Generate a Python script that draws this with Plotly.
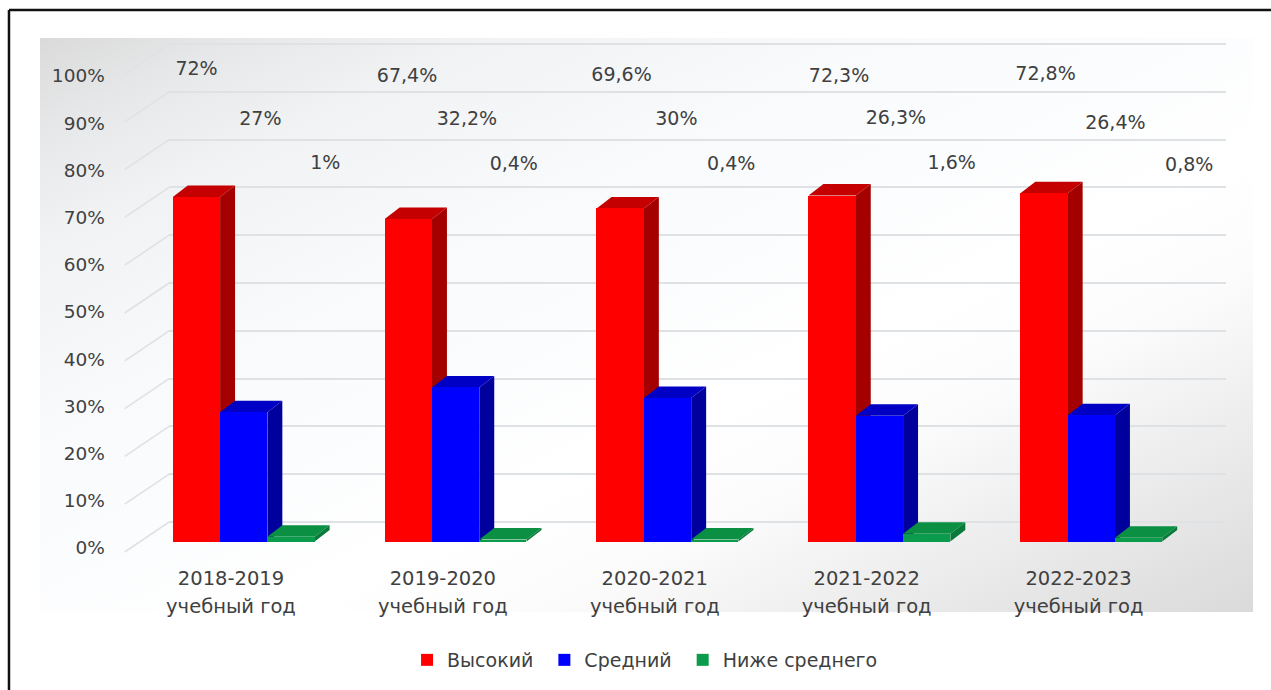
import base64
import plotly.graph_objects as go

# ---- data ----
years = ["2018-2019", "2019-2020", "2020-2021", "2021-2022", "2022-2023"]
second_line = "учебный год"
series_names = ["Высокий\u00a0", "Средний\u00a0", "Ниже среднего"]
high = [72, 67.4, 69.6, 72.3, 72.8]
mid = [27, 32.2, 30, 26.3, 26.4]
low = [1, 0.4, 0.4, 1.6, 0.8]
axis_ticks = [0, 10, 20, 30, 40, 50, 60, 70, 80, 90, 100]

# ---- page geometry (pixels) ----
W, H = 1271, 690
DOM_L, DOM_R = 166.5, 1226
DOM_T, DOM_B = 20, 560
PITCH = 212.4
X0 = 228.5
BAR_W = 47.4
DX, DY = 15, 11.5
PX_PER_PCT = 4.785
BASE = 541.5


def x_data(px):
    return (px - X0) / PITCH


def paper_x(px):
    return px / W


def paper_y(py):
    return 1 - py / H


def y_range(zero_px, scale):
    return [(zero_px - DOM_B) / scale, (zero_px - DOM_T) / scale]


xr = [x_data(DOM_L), x_data(DOM_R)]
dom_x = [paper_x(DOM_L), paper_x(DOM_R)]
dom_y = [paper_y(DOM_B), paper_y(DOM_T)]

WALL_ZERO, WALL_SCALE = 522, 4.78
TICK_ZERO, TICK_SCALE = 548, 4.72

RED, BLUE, GREEN = "#ff0000", "#0000ff", "#0a9c4c"
styles = [
    (high, RED, "#a40000", "#c40000", -58.3),
    (mid, BLUE, "#00009c", "#0000c4", -58.3 + BAR_W),
    (low, GREEN, "#0a7a3a", "#0b8f42", -58.3 + 2 * BAR_W),
]
TEXT = "#404040"
FONT = "DejaVu Sans"

fig = go.Figure()

shapes = []
# gradient panel
svg = (
    '<svg xmlns="http://www.w3.org/2000/svg" width="1216" height="574">'
    '<defs><linearGradient id="g" x1="0" y1="0" x2="1" y2="1">'
    '<stop offset="0" stop-color="#dadada"/><stop offset="0.08" stop-color="#e6e7e8"/>'
    '<stop offset="0.18" stop-color="#f0f2f4"/><stop offset="0.35" stop-color="#f8fafc"/>'
    '<stop offset="0.6" stop-color="#ffffff"/><stop offset="0.7" stop-color="#fcfcfc"/>'
    '<stop offset="0.82" stop-color="#eeeeee"/><stop offset="1" stop-color="#dadada"/>'
    '</linearGradient></defs><rect width="1216" height="574" fill="url(#g)"/></svg>'
)
img = "data:image/svg+xml;base64," + base64.b64encode(svg.encode()).decode()

# frame
shapes.append(dict(type="line", xref="paper", yref="paper", x0=paper_x(6), x1=1,
                   y0=paper_y(10), y1=paper_y(10), line=dict(color="#111111", width=2.5), layer="above"))
shapes.append(dict(type="line", xref="paper", yref="paper", x0=paper_x(6), x1=paper_x(6),
                   y0=0, y1=paper_y(10), line=dict(color="#111111", width=2.5), layer="above"))

# side-wall diagonals, one per tick
for t in axis_ticks:
    back = WALL_ZERO - WALL_SCALE * t
    front = back + 30
    shapes.append(dict(type="line", xref="paper", yref="paper", layer="below",
                       x0=paper_x(122), x1=paper_x(DOM_L),
                       y0=paper_y(front), y1=paper_y(back),
                       line=dict(color="#dfe2e5", width=1.6)))

# 3D faces of the bars derived from the values
dx_u = DX / PITCH
dy_u = DY / PX_PER_PCT
for values, front, side, top, off in styles:
    off_u = off / PITCH
    w_u = BAR_W / PITCH
    for i, v in enumerate(values):
        l = i + off_u
        r = l + w_u
        side_path = f"M{r},0 L{r+dx_u},{dy_u} L{r+dx_u},{v+dy_u} L{r},{v} Z"
        top_path = f"M{l},{v} L{l+dx_u},{v+dy_u} L{r+dx_u},{v+dy_u} L{r},{v} Z"
        for p, c in ((side_path, side), (top_path, top)):
            shapes.append(dict(type="path", path=p, xref="x", yref="y", layer="between",
                               fillcolor=c, line=dict(width=0)))

# front faces
for name, (values, front, side, top, off) in zip(series_names, styles):
    fig.add_trace(go.Bar(
        x=list(range(len(years))), y=values, name=name,
        width=BAR_W / PITCH, offset=off / PITCH,
        marker=dict(color=front, line=dict(width=0)),
        xaxis="x", yaxis="y", cliponaxis=False,
    ))

# floating value labels (pixel anchor)
label_px = {
    0: ([194, 405, 620, 838, 1045], [70, 77, 76, 77, 75]),
    1: ([258, 465, 675, 895, 1115], [120, 120, 120, 119, 124]),
    2: ([323, 512, 730, 951, 1189], [164, 165, 165, 164, 166]),
}
for k, (values, *_rest) in enumerate(styles):
    xs, ys = label_px[k]
    fig.add_trace(go.Scatter(
        x=[x_data(p) for p in xs],
        y=[(TICK_ZERO - p) / TICK_SCALE for p in ys],
        text=[f"{v:g}%".replace(".", ",") for v in values],
        mode="text", textposition="middle center",
        textfont=dict(family=FONT, size=19, color=TEXT),
        xaxis="x", yaxis="y2", showlegend=False, hoverinfo="skip", cliponaxis=False,
    ))

# back wall gridlines, second line of the category labels
fig.add_trace(go.Scatter(x=[None], y=[None], xaxis="x", yaxis="y3", showlegend=False, hoverinfo="skip"))
fig.add_trace(go.Scatter(x=[None], y=[None], xaxis="x2", yaxis="y", showlegend=False, hoverinfo="skip"))

tick_idx = list(range(len(years)))
fig.update_layout(
    width=W, height=H, margin=dict(l=0, r=0, t=0, b=0),
    paper_bgcolor="white", plot_bgcolor="rgba(0,0,0,0)",
    barmode="overlay", bargap=0,
    font=dict(family=FONT, size=18.5, color=TEXT),
    shapes=shapes,
    images=[dict(source=img, xref="paper", yref="paper", x=paper_x(37), y=paper_y(38),
                 sizex=1216 / W, sizey=574 / H, sizing="stretch", layer="below",
                 xanchor="left", yanchor="top")],
    xaxis=dict(domain=dom_x, range=xr, anchor="free", position=paper_y(564),
               tickmode="array", tickvals=tick_idx, ticktext=years, ticks="",
               tickfont=dict(size=19.5),
               showgrid=False, zeroline=False, showline=False),
    xaxis2=dict(overlaying="x", range=xr, anchor="free", position=paper_y(592),
                tickmode="array", tickvals=tick_idx, ticktext=[second_line] * len(years), ticks="",
                tickfont=dict(size=19.5),
                side="bottom", showgrid=False, zeroline=False, showline=False),
    yaxis=dict(domain=dom_y, range=y_range(BASE, PX_PER_PCT), visible=False,
               showgrid=False, zeroline=False),
    yaxis2=dict(overlaying="y", range=y_range(TICK_ZERO, TICK_SCALE), anchor="free",
                position=paper_x(102), side="left",
                tickmode="array", tickvals=axis_ticks, ticktext=[f"{t}%" for t in axis_ticks], ticks="",
                showgrid=False, zeroline=False, showline=False),
    yaxis3=dict(overlaying="y", range=y_range(WALL_ZERO, WALL_SCALE),
                tickmode="array", tickvals=axis_ticks, showticklabels=False, ticks="",
                showgrid=True, gridcolor="#dfe2e5", gridwidth=1.6, zeroline=False, showline=False),
    legend=dict(orientation="h", x=paper_x(405), xanchor="left", y=paper_y(660), yanchor="middle",
                bgcolor="rgba(0,0,0,0)", font=dict(family=FONT, size=19, color=TEXT),
                itemclick=False, itemdoubleclick=False),
)

fig.write_html("out.html", config={"displayModeBar": False},
               post_script="document.body.style.margin='0';document.body.style.overflow='hidden';")
